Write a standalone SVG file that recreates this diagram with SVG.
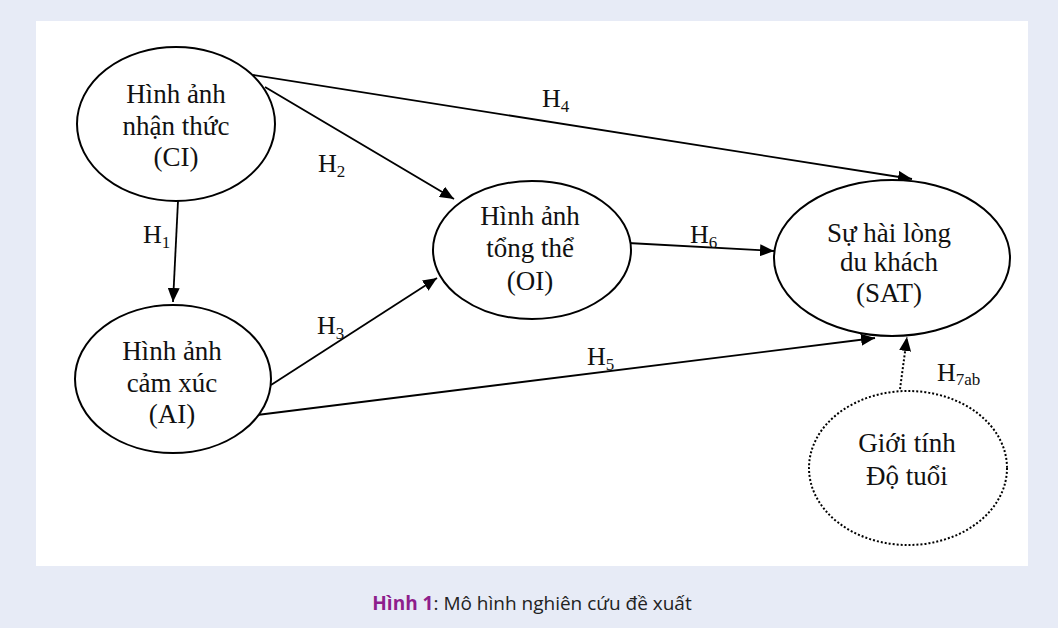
<svg xmlns="http://www.w3.org/2000/svg" width="1058" height="628" viewBox="0 0 1058 628">
<style>
.node{fill:#fff;stroke:#000;stroke-width:2}
.dot{fill:#fff;stroke:#000;stroke-width:2;stroke-dasharray:2 2}
.t{font-family:"Liberation Serif","Times New Roman",serif;font-size:27px;fill:#111;text-anchor:middle}
.lbl{font-family:"Liberation Serif","Times New Roman",serif;font-size:26px;fill:#111}
.sub{font-size:17px}
.edge{stroke:#000;stroke-width:1.8;fill:none;marker-end:url(#arr)}
.edge-d{stroke:#000;stroke-width:2;fill:none;stroke-dasharray:2 2;marker-end:url(#arr)}
.cap{font-family:"Open Sans","Noto Sans",sans-serif;font-size:19px;fill:#222;text-anchor:middle}
</style>
<defs>
<marker id="arr" markerUnits="userSpaceOnUse" markerWidth="16" markerHeight="12" refX="14" refY="6" orient="auto">
<path d="M0,0 L14,6 L0,12 Z" fill="#000"/>
</marker>
</defs>
<rect x="0" y="0" width="1058" height="628" fill="#e7ebf6"/>
<rect x="36" y="21" width="992" height="545" fill="#fff"/>

<g id="connectors">
<line class="edge" x1="178" y1="201" x2="173" y2="302"/>
<line class="edge" x1="265" y1="87" x2="454" y2="199"/>
<line class="edge" x1="271" y1="385" x2="437" y2="278"/>
<line class="edge" x1="253" y1="75" x2="912" y2="179"/>
<line class="edge" x1="257" y1="415" x2="875" y2="338"/>
<line class="edge" x1="628" y1="243" x2="774" y2="251"/>
<line class="edge-d" x1="900" y1="389" x2="907" y2="337"/>
<text class="lbl" x="143" y="243">H<tspan class="sub" dy="5">1</tspan></text>
<text class="lbl" x="318" y="172">H<tspan class="sub" dy="5">2</tspan></text>
<text class="lbl" x="317" y="334">H<tspan class="sub" dy="5">3</tspan></text>
<text class="lbl" x="542" y="107">H<tspan class="sub" dy="5">4</tspan></text>
<text class="lbl" x="587" y="365">H<tspan class="sub" dy="5">5</tspan></text>
<text class="lbl" x="690" y="243">H<tspan class="sub" dy="5">6</tspan></text>
<text class="lbl" x="937" y="381">H<tspan class="sub" dy="4">7ab</tspan></text>
</g>

<g id="CI">
<ellipse class="node" cx="176" cy="124" rx="99" ry="77"/>
<text class="t" x="176" y="103">Hình ảnh</text>
<text class="t" x="176" y="135">nhận thức</text>
<text class="t" x="176" y="166">(CI)</text>
</g>
<g id="AI">
<ellipse class="node" cx="173" cy="379" rx="98" ry="74"/>
<text class="t" x="172" y="360">Hình ảnh</text>
<text class="t" x="172" y="392">cảm xúc</text>
<text class="t" x="172" y="423">(AI)</text>
</g>
<g id="OI">
<ellipse class="node" cx="532" cy="250" rx="99" ry="69"/>
<text class="t" x="530" y="225">Hình ảnh</text>
<text class="t" x="530" y="257">tổng thể</text>
<text class="t" x="530" y="290">(OI)</text>
</g>
<g id="SAT">
<ellipse class="node" cx="892" cy="258" rx="118" ry="78"/>
<text class="t" x="889" y="242">Sự hài lòng</text>
<text class="t" x="889" y="271">du khách</text>
<text class="t" x="889" y="302">(SAT)</text>
</g>
<g id="DEMO">
<ellipse class="dot" cx="908" cy="468" rx="99" ry="77"/>
<text class="t" x="907" y="452">Giới tính</text>
<text class="t" x="907" y="485">Độ tuổi</text>
</g>

<text class="cap" x="532" y="610"><tspan font-weight="bold" fill="#8e1e8c">Hình 1</tspan>: Mô hình nghiên cứu đề xuất</text>
</svg>
